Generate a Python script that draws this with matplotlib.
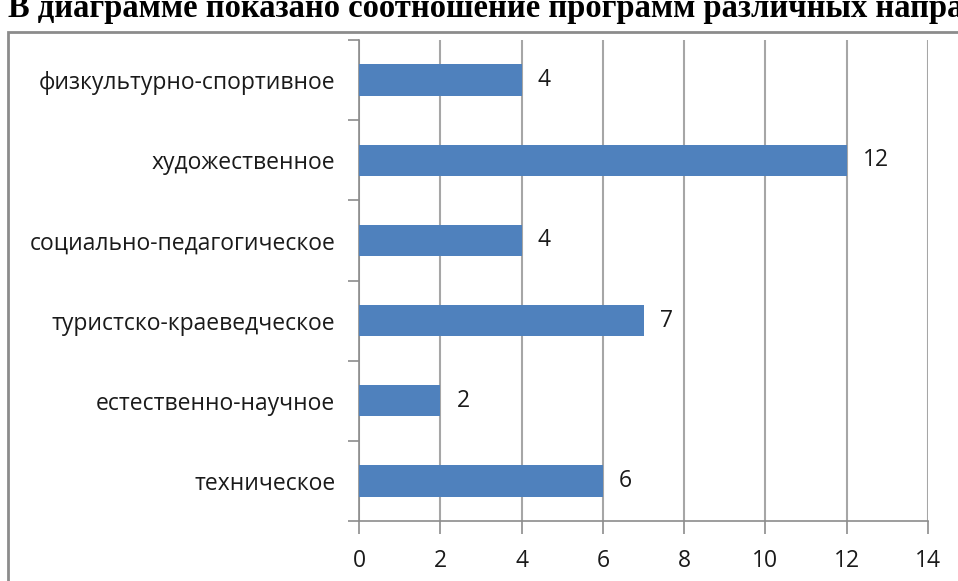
import numpy as np
import matplotlib.pyplot as plt
from matplotlib.patches import Rectangle

categories = ['техническое', 'естественно-научное', 'туристско-краеведческое',
              'социально-педагогическое', 'художественное', 'физкультурно-спортивное']
values = [6, 2, 7, 4, 12, 4]
xticks = [0, 2, 4, 6, 8, 10, 12, 14]
title = 'В диаграмме показано соотношение программ различных направлений'

W, H = 958, 581
fig = plt.figure(figsize=(W / 100, H / 100), dpi=100)
font = {'family': 'Open Sans', 'size': 16.5}
grey = '#8c8c8c'

# outer frame of the pasted chart
fig.patches.append(Rectangle((8 / W, -0.1), 1.1, 1 - 32 / H + 0.1, transform=fig.transFigure,
                             fill=False, edgecolor=grey, linewidth=2))
fig.text(8 / W, 1 - 17 / H, title, fontfamily='Liberation Serif', fontweight='bold',
         fontsize=23.5, va='baseline', ha='left')

ax = fig.add_axes([359 / W, 1 - 521 / H, (928 - 359) / W, (521 - 40) / H])
y = np.arange(len(categories))
ax.barh(y, values, height=0.39, color='#4F81BD', zorder=3)
for yi, v in zip(y, values):
    ax.text(v + 0.4, yi, str(v), va='center', ha='left', fontdict=font, color='#1a1a1a')

ax.set_xlim(0, 14)
ax.set_ylim(-0.5, len(categories) - 0.5)
ax.set_xticks(xticks)
ax.set_xticklabels([str(t) for t in xticks], fontdict=font, color='#1a1a1a')
ax.set_yticks(y)
ax.set_yticklabels(categories, fontdict=font, color='#1a1a1a')
ax.set_yticks(np.arange(len(categories) + 1) - 0.5, minor=True)
ax.tick_params(axis='y', which='major', length=0, pad=17)
ax.tick_params(axis='y', which='minor', length=8, width=1.2, color=grey)
ax.tick_params(axis='x', length=9, width=1.2, color=grey, pad=11)
ax.grid(axis='x', color='#a6a6a6', linewidth=1.5, zorder=0)
for s in ['top', 'right']:
    ax.spines[s].set_visible(False)
for s in ['left', 'bottom']:
    ax.spines[s].set_color(grey)
    ax.spines[s].set_linewidth(1.2)

fig.savefig('out.png', dpi=100)
